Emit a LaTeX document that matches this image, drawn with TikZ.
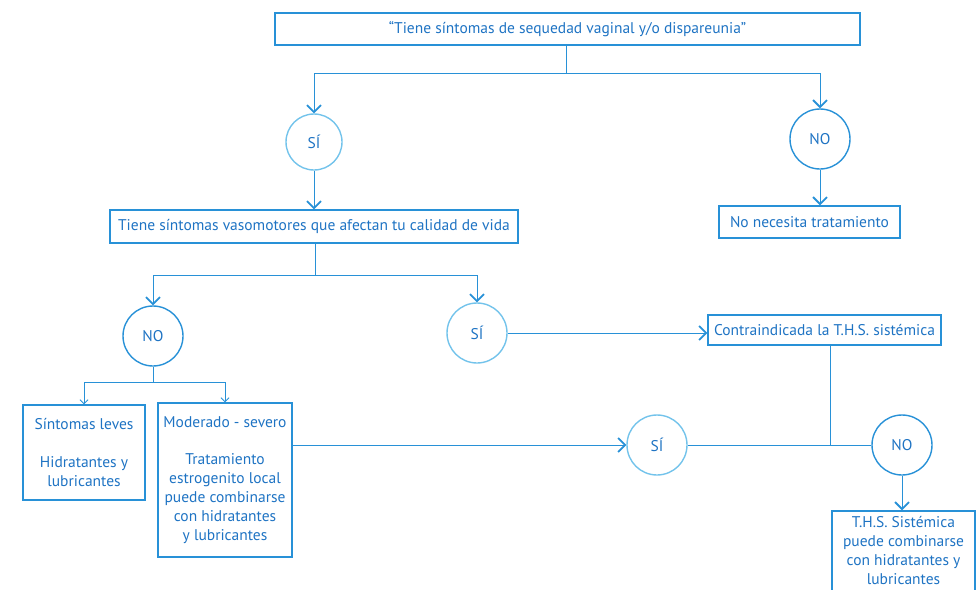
\documentclass[tikz,border=0pt]{standalone}
\usepackage{fontspec}
\setmainfont{PT Sans}
\usetikzlibrary{arrows.meta,calc}
\definecolor{lineblue}{RGB}{40,145,215}
\definecolor{textblue}{RGB}{30,115,195}
\definecolor{siblue}{RGB}{115,195,235}
\tikzset{
  x=1pt,y=-1pt,
  box/.style={draw=lineblue,line width=1.4pt,rectangle,inner sep=2pt,text=textblue,font=\fontsize{15.5}{19}\selectfont,align=center},
  nocirc/.style={draw=lineblue,line width=1.4pt,circle,minimum size=60pt,inner sep=0pt,text=textblue,font=\fontsize{15.5}{17}\selectfont},
  sicirc/.style={draw=siblue,line width=1.4pt,circle,minimum size=60pt,inner sep=0pt,text=textblue,font=\fontsize{15.5}{17}\selectfont},
  conn/.style={draw=lineblue,line width=1pt},
  arr/.style={conn,-{Straight Barb[length=7pt,width=14pt,line width=1.8pt]}},
  sarr/.style={conn,line width=0.8pt,-{Straight Barb[length=4pt,width=8pt,line width=0.9pt]}}
}
\begin{document}
\begin{tikzpicture}
\useasboundingbox (0,0) rectangle (977,589);
\begin{scope}
\clip (0,0) rectangle (977,589);
% boxes
\node[box,minimum width=585pt,minimum height=32pt] (top) at (567.5,29) {“Tiene síntomas de sequedad vaginal y/o dispareunia”};
\node[box,minimum width=408pt,minimum height=33pt] (vaso) at (314,226.5) {Tiene síntomas vasomotores que afectan tu calidad de vida};
\node[box,minimum width=181pt,minimum height=32pt] (nonec) at (809.5,222) {No necesita tratamiento};
\node[box,minimum width=233pt,minimum height=30pt] (contra) at (824.5,330) {Contraindicada la T.H.S. sistémica};
\node[box,minimum width=122pt,minimum height=95pt] (leves) at (84,452.5) {Síntomas leves\\[19pt]Hidratantes y\\lubricantes};
\node[box,minimum width=134pt,minimum height=154pt] (mod) at (225,480) {Moderado - severo\\[18pt]Tratamiento\\estrogenito local\\puede combinarse\\con hidratantes\\y lubricantes};
\node[box,minimum width=143pt,minimum height=80pt] (ths) at (903.5,551) {T.H.S. Sistémica\\puede combinarse\\con hidratantes y\\lubricantes};
% circles
\node[sicirc,minimum size=56pt] (si1) at (314,142) {SÍ};
\node[nocirc] (no1) at (820,139) {NO};
\node[nocirc] (no2) at (153,336) {NO};
\node[sicirc] (si2) at (477,333) {SÍ};
\node[sicirc] (si3) at (657,445) {SÍ};
\node[nocirc] (no3) at (902,445) {NO};
% junctions
\coordinate (j1) at (566,73);
\coordinate (j2) at (315,275);
\coordinate (j3) at (830,445);
\coordinate (j4) at (153,382);
% connectors
\draw[conn] (top.south -| j1) -- (j1);
\draw[arr] (j1) -| (si1.north);
\draw[arr] (j1) -| (no1.north);
\draw[arr] (si1.south) -- (vaso.north);
\draw[arr] (no1.south) -- (no1.south |- nonec.north);
\draw[conn] (vaso.south -| j2) -- (j2);
\draw[arr] (j2) -| (no2.north);
\draw[arr] (j2) -| (si2.north);
\draw[arr] (si2.east) -- (si2.east -| contra.west);
\draw[conn] (no2.south) -- (j4);
\draw[sarr] (j4) -| (leves.north);
\draw[sarr] (j4) -| (mod.north);
\draw[arr] (mod.east |- si3.west) -- (si3.west);
\draw[conn] (si3.east) -- (no3.west);
\draw[conn] (contra.south -| j3) -- (j3);
\draw[arr] (no3.south) -- (no3.south |- ths.north);
\end{scope}
\end{tikzpicture}
\end{document}
